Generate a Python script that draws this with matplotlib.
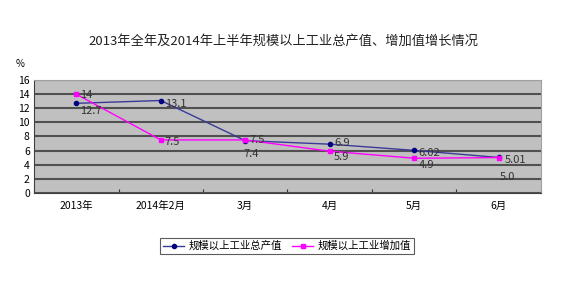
import numpy as np
import matplotlib
matplotlib.use('Agg')
import matplotlib.pyplot as plt

plt.rcParams['font.family'] = ['Noto Sans CJK SC', 'DejaVu Sans']

categories = ['2013年', '2014年2月', '3月', '4月', '5月', '6月']
output_growth = [12.7, 13.1, 7.4, 6.9, 6.02, 5.01]
added_growth = [14, 7.5, 7.5, 5.9, 4.9, 5.0]
output_labels = ['12.7', '13.1', '7.4', '6.9', '6.02', '5.01']
added_labels = ['14', '7.5', '7.5', '5.9', '4.9', '5.0']

fig = plt.figure(figsize=(5.67, 2.86), dpi=100)
ax = fig.add_axes([0.06, 0.326, 0.894, 0.394])
ax.set_facecolor('#C0C0C0')

x = np.arange(len(categories))
l1, = ax.plot(x, output_growth, color='#3a3a9a', lw=1, marker='o', ms=3,
              mfc='#000080', mec='#000080', label='规模以上工业总产值')
l2, = ax.plot(x, added_growth, color='#FF00FF', lw=1, marker='s', ms=3.5,
              label='规模以上工业增加值')

# data labels, roughly where the original puts them
out_off = [(3, -8), (3, -5), (-1, -12), (3, -1), (3, -4), (4, -4)]
add_off = [(3, -3), (3, -4), (3, -2), (3, -6), (3, -7), (1, -16)]
for i in range(len(x)):
    ax.annotate(output_labels[i], (x[i], output_growth[i]), xytext=out_off[i],
                textcoords='offset points', fontsize=8, color='#333333')
    ax.annotate(added_labels[i], (x[i], added_growth[i]), xytext=add_off[i],
                textcoords='offset points', fontsize=8, color='#333333')

ax.set_xlim(-0.5, 5.5)
ax.set_ylim(0, 16)
ax.set_yticks(range(0, 17, 2))
ax.yaxis.grid(True, color='#505050', lw=1.5)
ax.set_axisbelow(True)
ax.set_xticks(np.arange(-0.5, 5.6, 1))
ax.set_xticklabels([])
ax.set_xticks(x, minor=True)
ax.set_xticklabels(categories, minor=True)
ax.tick_params(axis='x', which='minor', length=0, pad=6, labelsize=7.5)
ax.tick_params(axis='x', which='major', length=3, direction='in', color='#333333')
ax.tick_params(axis='y', length=0, labelsize=7.5, pad=3)
for s in ['top', 'right']:
    ax.spines[s].set_color('#a0a0a0')
for s in ['left', 'bottom']:
    ax.spines[s].set_color('#404040')

fig.text(0.028, 0.765, '%', fontsize=7)
fig.text(0.5, 0.845, '2013年全年及2014年上半年规模以上工业总产值、增加值增长情况',
         ha='center', fontsize=9.5, color='#222222')

leg = fig.legend(handles=[l1, l2], loc='center', bbox_to_anchor=(0.506, 0.14),
                 ncol=2, fontsize=7.5, frameon=True, fancybox=False,
                 edgecolor='#333333', handlelength=2, columnspacing=1,
                 borderpad=0.3, handletextpad=0.4)
leg.get_frame().set_linewidth(0.8)

fig.savefig('out.png', dpi=100, facecolor='white')
